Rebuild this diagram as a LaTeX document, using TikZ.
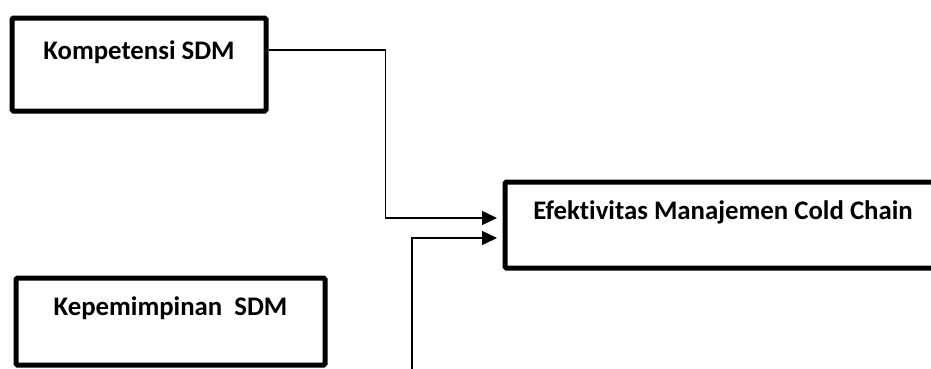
\documentclass[tikz,border=0pt]{standalone}
\usepackage{fontspec}
\setmainfont{Carlito}[Ligatures=NoCommon]
\usetikzlibrary{arrows.meta}

\begin{document}
\begin{tikzpicture}[x=1pt,y=-1pt,
    box/.style={draw,line width=5pt,rounded corners=1.5pt,inner sep=0pt,
      font=\fontsize{26.8}{30}\selectfont\bfseries},
    link/.style={line width=1.4pt,-{Triangle[length=15pt,width=14pt]},shorten >=5.5pt}]
  \clip (0,0) rectangle (931,368);
  \node[box,minimum width=254pt,text height=41pt,text depth=52pt] (komp) at (139,64.5) {Kompetensi SDM};
  \node[box,minimum width=436pt,text height=37pt,text depth=49pt] (efek) at (723,225) {Efektivitas Manajemen Cold Chain};
  \node[box,minimum width=309pt,text height=37pt,text depth=50pt] (kepe) at (170.5,321.5) {Kepemimpinan\ \ SDM};
  \coordinate (lead) at (412,380);
  \draw[link] ([yshift=14.5pt]komp.east) -- ++(117,0) |- ([yshift=7pt]efek.west);
  \draw[link] (lead) |- ([yshift=-13pt]efek.west);
\end{tikzpicture}
\end{document}
